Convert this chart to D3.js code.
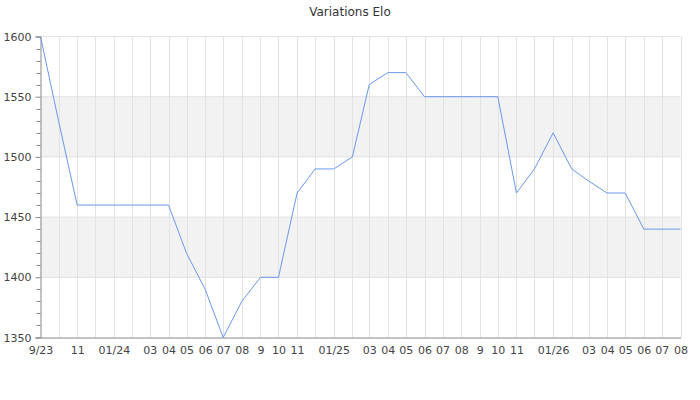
<!DOCTYPE html>
<html><head><meta charset="utf-8">
<script src="https://cdn.jsdelivr.net/npm/d3@7"></script>
<style>body{margin:0;background:#fff;}svg{display:block;font-family:"DejaVu Sans",sans-serif;}</style>
</head><body><svg id="c" width="700" height="400"></svg>
<script>
const months = ["2023-09","2023-10","2023-11","2023-12","2024-01","2024-02","2024-03","2024-04","2024-05","2024-06","2024-07","2024-08","2024-09","2024-10","2024-11","2024-12","2025-01","2025-02","2025-03","2025-04","2025-05","2025-06","2025-07","2025-08","2025-09","2025-10","2025-11","2025-12","2026-01","2026-02","2026-03","2026-04","2026-05","2026-06","2026-07","2026-08"];
const elo = [1600,1530,1460,1460,1460,1460,1460,1460,1420,1390,1350,1380,1400,1400,1470,1490,1490,1500,1560,1570,1570,1550,1550,1550,1550,1550,1470,1490,1520,1490,1480,1470,1470,1440,1440,1440];
const tickLabels = ["9/23","","11","","01/24","","03","04","05","06","07","08","9","10","11","","01/25","","03","04","05","06","07","08","9","10","11","","01/26","","03","04","05","06","07","08"];
const yTicks = [1350,1400,1450,1500,1550,1600];
const title = "Variations Elo";

const parse = d3.timeParse("%Y-%m");
const dates = months.map(parse);
const svg = d3.select("#c");
const L=40.5, R=680.5, T=36.5, B=337.5;
const x = d3.scaleTime().domain([dates[0], dates[dates.length-1]]).range([L,R]);
const y = d3.scaleLinear().domain([1350,1600]).range([B,T]);

// bands
for (let i=0;i<yTicks.length-1;i++){
  if (yTicks[i]===1400 || yTicks[i]===1500){
    svg.append("rect").attr("x",L).attr("width",R-L)
      .attr("y",y(yTicks[i+1])).attr("height",y(yTicks[i])-y(yTicks[i+1]))
      .attr("fill","#f2f2f2");
  }
}
// vertical grid
svg.append("g").selectAll("line").data(dates.slice(1)).join("line")
  .attr("x1",d=>Math.round(x(d))+0.5).attr("x2",d=>Math.round(x(d))+0.5)
  .attr("y1",T).attr("y2",B).attr("stroke","#e2e2e2").attr("stroke-width",1);
// horizontal grid
svg.append("g").selectAll("line").data(yTicks.slice(1)).join("line")
  .attr("x1",L).attr("x2",R).attr("y1",d=>y(d)).attr("y2",d=>y(d))
  .attr("stroke","#e2e2e2").attr("stroke-width",1);

// y axis
const ya = d3.axisLeft(y).tickValues(yTicks).tickSize(5).tickPadding(4).tickFormat(d3.format("d"));
const yg = svg.append("g").attr("transform",`translate(${L},0)`).call(ya);
yg.select(".domain").attr("stroke","#888");
yg.selectAll(".tick line").attr("stroke","#888");
yg.selectAll("text").attr("fill","#444").style("font-size","11px").style("font-family","DejaVu Sans");
// minor ticks
const minor = d3.range(1350,1601,10).filter(v=>v%50!==0);
svg.append("g").selectAll("line").data(minor).join("line")
  .attr("x1",L-4).attr("x2",L).attr("y1",d=>Math.round(y(d))+0.5).attr("y2",d=>Math.round(y(d))+0.5)
  .attr("stroke","#888");

// x axis
const xa = d3.axisBottom(x).tickValues(dates).tickSize(0).tickPadding(9)
  .tickFormat((d,i)=>tickLabels[i]);
const xg = svg.append("g").attr("transform",`translate(0,${B})`).call(xa);
xg.select(".domain").attr("stroke","#888");
xg.selectAll("text").attr("fill","#444").style("font-size","11px").style("font-family","DejaVu Sans");

// line
svg.append("path").datum(dates.map((d,i)=>[d,elo[i]]))
  .attr("fill","none").attr("stroke","#6a98ec").attr("stroke-width",1)
  .attr("d",d3.line().x(d=>x(d[0])).y(d=>y(d[1])));

svg.append("text").attr("x",350).attr("y",16).attr("text-anchor","middle")
  .attr("fill","#333").style("font-size","12px").text(title);
</script></body></html>
